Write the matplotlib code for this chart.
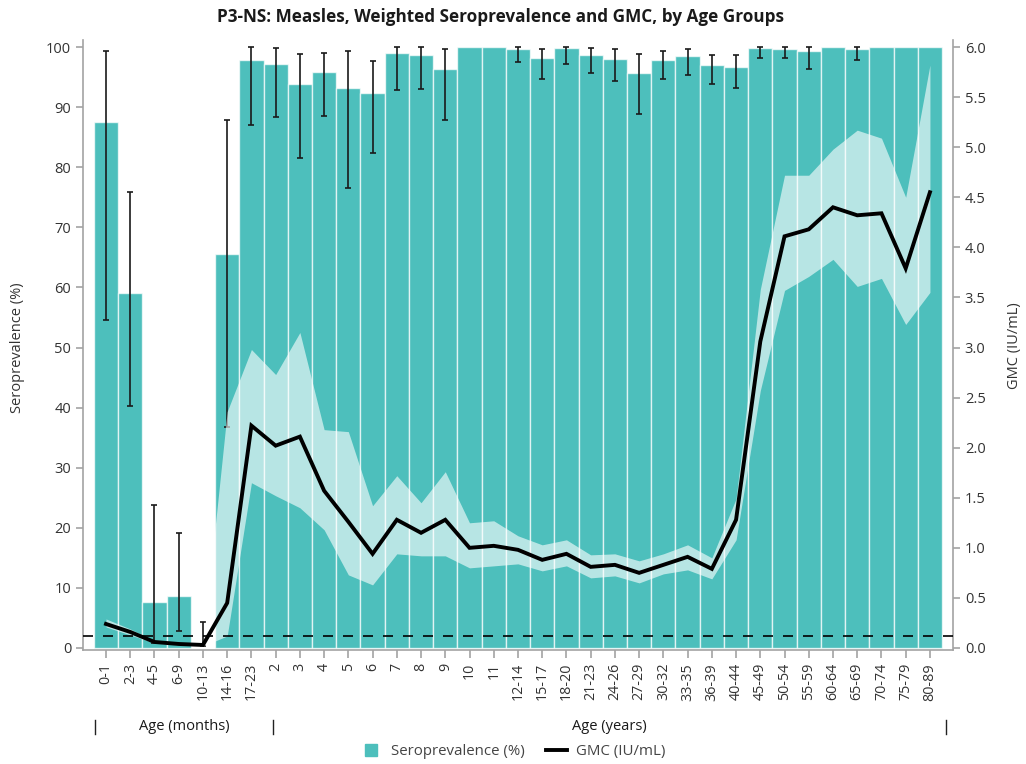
import numpy as np
import matplotlib
matplotlib.use("Agg")
import matplotlib.pyplot as plt
from matplotlib.lines import Line2D

plt.rcParams['font.family'] = ['Open Sans', 'DejaVu Sans']

# Age groups (months, then years)
age_groups = ["0-1", "2-3", "4-5", "6-9", "10-13", "14-16", "17-23",
              "2", "3", "4", "5", "6", "7", "8", "9", "10", "11",
              "12-14", "15-17", "18-20", "21-23", "24-26", "27-29", "30-32",
              "33-35", "36-39", "40-44", "45-49", "50-54", "55-59", "60-64",
              "65-69", "70-74", "75-79", "80-89"]

# Weighted seroprevalence (%) with 95% CI
seroprev = [87.5, 59.0, 7.7, 8.7, 0.0, 65.6, 97.9,
            97.1, 93.8, 95.8, 93.2, 92.4, 99.0, 98.7, 96.4, 100.0, 100.0,
            99.7, 98.2, 99.8, 98.7, 98.0, 95.6, 97.9,
            98.5, 97.0, 96.7, 99.8, 99.7, 99.3, 100.0,
            99.7, 100.0, 100.0, 100.0]
nan = np.nan
sero_lo = [54.5, 40.2, 0.9, 2.9, 0.4, 36.8, 87.1,
           88.3, 81.5, 88.5, 76.6, 82.3, 92.8, 93.0, 87.8, nan, nan,
           97.5, 94.7, 97.2, 95.7, 94.3, 88.8, 94.7,
           95.3, 93.9, 93.2, 98.1, 98.2, 96.4, nan,
           97.8, nan, nan, nan]
sero_hi = [99.3, 75.8, 23.8, 19.2, 4.4, 87.8, 100.0,
           99.8, 98.9, 99.0, 99.3, 97.7, 100.0, 100.0, 99.6, nan, nan,
           100.0, 99.6, 100.0, 99.8, 99.6, 98.8, 99.4,
           99.7, 98.6, 98.6, 100.0, 100.0, 100.0, nan,
           100.0, nan, nan, nan]

# Geometric mean concentration (IU/mL) with 95% CI
gmc = [0.24, 0.16, 0.06, 0.04, 0.03, 0.45, 2.22,
       2.02, 2.11, 1.57, 1.26, 0.94, 1.28, 1.15, 1.28, 1.00, 1.02,
       0.98, 0.88, 0.94, 0.81, 0.83, 0.75, 0.83,
       0.91, 0.79, 1.28, 3.06, 4.11, 4.18, 4.40,
       4.32, 4.34, 3.79, 4.55]
gmc_lo = [0.21, 0.13, 0.05, 0.03, 0.02, 0.12, 1.65,
          1.52, 1.40, 1.18, 0.73, 0.63, 0.94, 0.92, 0.92, 0.80, 0.82,
          0.84, 0.77, 0.82, 0.70, 0.72, 0.65, 0.74,
          0.78, 0.69, 1.08, 2.57, 3.57, 3.71, 3.88,
          3.61, 3.69, 3.23, 3.55]
gmc_hi = [0.29, 0.19, 0.07, 0.05, 0.04, 2.36, 2.98,
          2.73, 3.15, 2.18, 2.16, 1.42, 1.72, 1.45, 1.76, 1.25, 1.27,
          1.12, 1.03, 1.08, 0.93, 0.94, 0.87, 0.94,
          1.03, 0.90, 1.49, 3.58, 4.72, 4.72, 4.98,
          5.17, 5.09, 4.50, 5.82]

protective_threshold = 0.12  # IU/mL

TEAL = "#4DBFBC"
AXIS_GREY = "#A3A3A3"
TEXT = "#333333"

x = np.arange(len(age_groups))
sero = np.array(seroprev)
lo = np.array(sero_lo)
hi = np.array(sero_hi)
has_ci = ~np.isnan(lo)

fig = plt.figure(figsize=(10.26, 7.64), dpi=100)
ax = fig.add_axes([0.0809, 0.1487, 0.8479, 0.7984])
ax2 = ax.twinx()

# Seroprevalence bars with CI whiskers
ax.bar(x, sero, width=1.0, color=TEAL, edgecolor=(1, 1, 1, 0.7),
       linewidth=1.0, zorder=2)
mid = (lo + hi) / 2
half = (hi - lo) / 2
ax.errorbar(x[has_ci], mid[has_ci], yerr=half[has_ci], fmt="none",
            ecolor="#1a1a1a", elinewidth=1.2, capsize=2.2, capthick=1.2,
            zorder=3)

ax.set_xlim(-0.95, len(age_groups) - 0.05)
ax.set_ylim(-0.4, 101.1)
ax.set_yticks(np.arange(0, 101, 10))
ax.set_xticks(x)
ax.set_xticklabels(age_groups, rotation=90, fontsize=10.3, color=TEXT)
ax.tick_params(axis="y", labelsize=10.5, labelcolor=TEXT, color=AXIS_GREY,
               length=5, width=1.2)
ax.tick_params(axis="x", color=AXIS_GREY, length=6, width=1.2, pad=3)

# GMC band, line and protective threshold on the secondary axis
ax2.fill_between(x, gmc_lo, gmc_hi, color="white", alpha=0.6,
                 linewidth=0, zorder=2)
ax2.plot(x, gmc, color="black", linewidth=2.8, zorder=3,
         solid_joinstyle="miter")
ax2.axhline(protective_threshold, color="black", linewidth=1.2,
            dashes=(6, 6), zorder=4)
ax2.set_ylim(-0.4 * 0.06, 101.1 * 0.06)
ticks2 = np.arange(0, 6.01, 0.5)
ax2.set_yticks(ticks2)
ax2.set_yticklabels([f"{v:.1f}" for v in ticks2])
ax2.tick_params(axis="y", labelsize=10.5, labelcolor=TEXT, color=AXIS_GREY,
                length=5, width=1.2)

for a in (ax, ax2):
    a.spines["top"].set_visible(False)
    for s in a.spines.values():
        s.set_color(AXIS_GREY)
        s.set_linewidth(1.2)
ax.spines["right"].set_visible(False)
ax2.spines["left"].set_visible(False)
ax2.spines["bottom"].set_visible(False)

# Titles and axis labels
fig.text(0.488, 0.978, "P3-NS: Measles, Weighted Seroprevalence and GMC, by Age Groups",
         ha="center", va="center", fontsize=12.3, fontweight="bold", color="#1a1a1a")
fig.text(0.0175, 0.545, "Seroprevalence (%)", rotation=90, ha="center",
         va="center", fontsize=10.5, color=TEXT)
fig.text(0.989, 0.548, "GMC (IU/mL)", rotation=90, ha="center",
         va="center", fontsize=10.5, color=TEXT)

# Age unit brackets below the tick labels
sep_x = [95 / 1026, 272.7 / 1026, 945.7 / 1026]
y_sep = 1 - 727 / 764
for sx in sep_x:
    fig.add_artist(Line2D([sx, sx], [y_sep - 0.009, y_sep + 0.009],
                          color="#222222", linewidth=1.0))
fig.text((sep_x[0] + sep_x[1]) / 2, y_sep, "Age (months)", ha="center",
         va="center", fontsize=10.5, color="#1a1a1a")
fig.text((sep_x[1] + sep_x[2]) / 2, y_sep, "Age (years)", ha="center",
         va="center", fontsize=10.5, color="#1a1a1a")

# Legend
handles = [Line2D([], [], marker="s", color=TEAL, linestyle="none",
                  markersize=8),
           Line2D([], [], color="black", linewidth=2.8)]
fig.legend(handles, ["Seroprevalence (%)", "GMC (IU/mL)"], ncol=2,
           loc="center", bbox_to_anchor=(0.5, 0.016), frameon=False,
           fontsize=10.8, handlelength=1.4, handletextpad=0.6,
           columnspacing=1.4, labelcolor="#444444")

fig.savefig("out.png", dpi=100)
